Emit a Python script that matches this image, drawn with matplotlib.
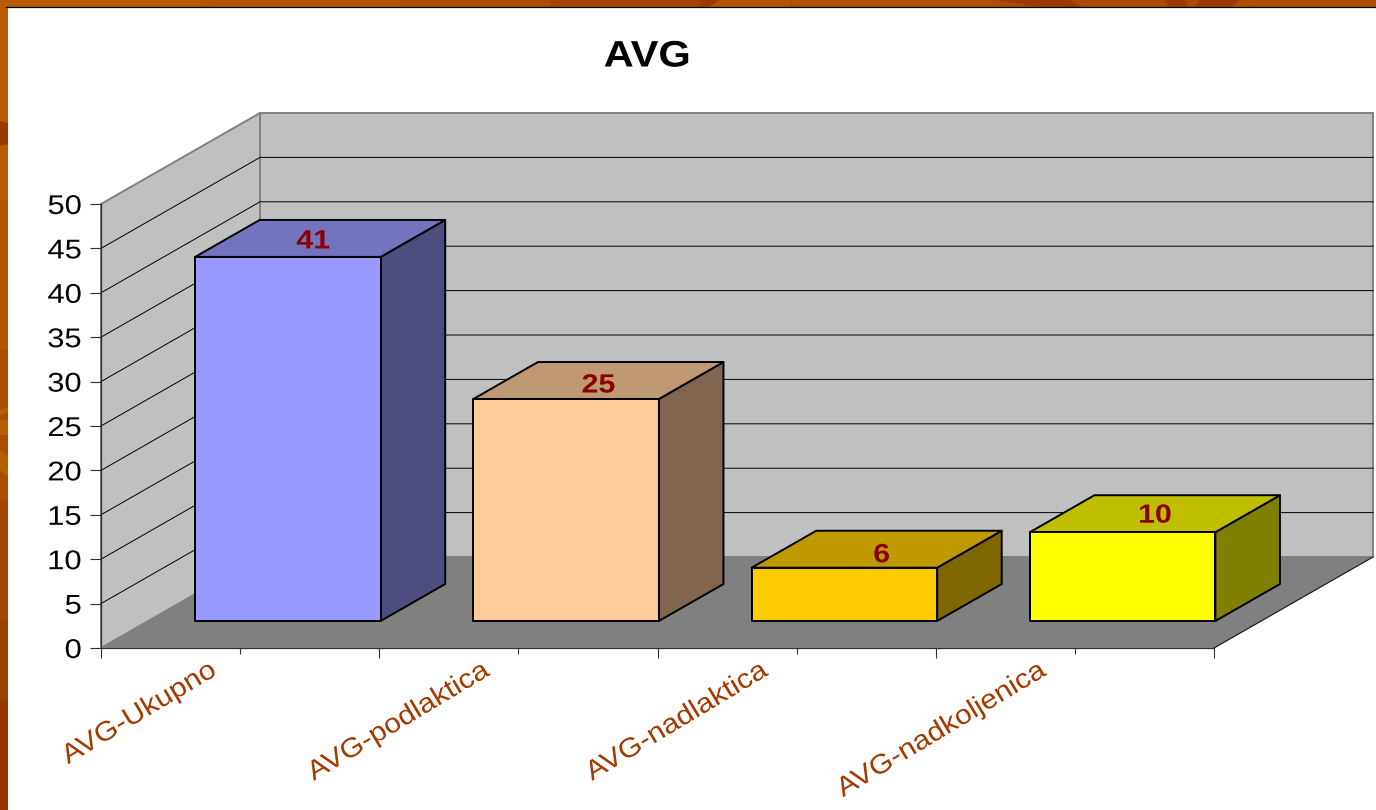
import matplotlib
matplotlib.use("Agg")
import matplotlib.pyplot as plt
from matplotlib.patches import Polygon, Rectangle
from matplotlib.patheffects import AbstractPathEffect
from matplotlib.transforms import Affine2D

# data
categories = ["AVG-Ukupno", "AVG-podlaktica", "AVG-nadlaktica", "AVG-nadkoljenica"]
values = [41, 25, 6, 10]
y_ticks = [0, 5, 10, 15, 20, 25, 30, 35, 40, 45, 50]

# styles
front_colors = ["#9999FF", "#FFCC99", "#FFCC00", "#FFFF00"]
top_colors = ["#7373BF", "#BF9973", "#BF9900", "#BFBF00"]
side_colors = ["#4D4D80", "#806650", "#806600", "#808000"]
label_shift = [-7, 0, 5, 0]
label_drop = [3, 5, 6, 2]
cat_shift = [5, 0, 0, 0]

W, H = 1376, 810
plt.rcParams["font.family"] = ["Liberation Sans", "DejaVu Sans"]
fig = plt.figure(figsize=(W / 100, H / 100), dpi=100)


# the slide was stretched sideways, so the text is wider than the font
class StretchX(AbstractPathEffect):
    def __init__(self, sx, anchor):
        super().__init__()
        self.sx = sx
        self.anchor = anchor

    def draw_path(self, renderer, gc, tpath, affine, rgbFace=None):
        box = tpath.get_extents()
        x = box.x0 + self.anchor * box.width
        t = Affine2D().translate(-x, 0).scale(self.sx, 1).translate(x, 0)
        renderer.draw_path(gc, tpath, t + affine, rgbFace)


# orange frame behind the white slide, drawn in pixels
bg = fig.add_axes([0, 0, 1, 1])
bg.set_xlim(0, W)
bg.set_ylim(H, 0)
bg.axis("off")
left_bands = [(0, "#B85A00"), (200, "#B25400"), (350, "#AB4C00"), (500, "#A44600"),
              (620, "#9F4000"), (700, "#9A3700")]
for i, (y0, c) in enumerate(left_bands):
    y1 = left_bands[i + 1][0] if i + 1 < len(left_bands) else H
    bg.add_patch(Rectangle((0, y0), 8, y1 - y0, fc=c, ec="none"))
top_bands = [(0, "#B85A00"), (200, "#B25400"), (400, "#AC4C00"), (550, "#A54400"),
             (700, "#B25400"), (790, "#AE5000"), (1000, "#A84A00"), (1200, "#AC4E00")]
for i, (x0, c) in enumerate(top_bands):
    x1 = top_bands[i + 1][0] if i + 1 < len(top_bands) else W
    bg.add_patch(Rectangle((x0, 0), x1 - x0, 7, fc=c, ec="none"))
dark = [[(0, 121), (8, 123), (8, 144), (0, 146)],
        [(995, 0), (1070, 0), (1080, 7), (1040, 7)],
        [(1165, 0), (1185, 0), (1188, 7), (1168, 7)],
        [(1198, 0), (1240, 0), (1232, 7), (1195, 7)],
        [(700, 0), (720, 0), (708, 7), (700, 7)]]
light = [[(0, 410), (8, 407), (8, 411), (0, 416)],
         [(0, 420), (8, 420), (8, 435), (0, 435)],
         [(0, 450), (8, 456), (8, 476), (0, 470)]]
for p in dark:
    bg.add_patch(Polygon(p, fc="#9A3A00", ec="none"))
for p in light:
    bg.add_patch(Polygon(p, fc="#B56000", ec="none"))
bg.add_patch(Rectangle((8, 7), W - 8, H - 7, fc="white", ec="none"))
bg.plot([6, W], [7, 7], color="black", lw=0.9)

# chart axes: front plane of the 3D box
ax = fig.add_axes([101 / W, (H - 648) / H, (1214 - 101) / W, (648 - 204) / H])
ax.patch.set_visible(False)
ax.set_xlim(0, len(categories))
ax.set_ylim(0, 50)
for s in ["top", "right"]:
    ax.spines[s].set_visible(False)
ax.spines["left"].set_color("#303030")
ax.spines["bottom"].set_color("#303030")
ax.spines["left"].set_linewidth(0.9)
ax.spines["bottom"].set_linewidth(0.9)

# depth of the box as data offsets
dx = 159 / 278.25
dy = 91 / 8.88
xmax = len(categories)

ax.add_patch(Polygon([(dx, dy), (xmax + dx, dy), (xmax + dx, 50 + dy), (dx, 50 + dy)],
                     fc="#C0C0C0", ec="#808080", lw=1.4, clip_on=False, zorder=1))
ax.add_patch(Polygon([(0, 0), (dx, dy), (dx, 50 + dy), (0, 50)],
                     fc="#C0C0C0", ec="#808080", lw=1.4, clip_on=False, zorder=1))
for t in y_ticks[1:-1]:
    ax.plot([0, dx, xmax + dx], [t, t + dy, t + dy], color="black", lw=0.7,
            clip_on=False, zorder=2)
ax.add_patch(Polygon([(0, 0), (dx, dy), (xmax + dx, dy), (xmax, 0)],
                     fc="#808080", ec="none", clip_on=False, zorder=3))
ax.plot([xmax, xmax + dx], [0, dy], color="#202020", lw=0.9, clip_on=False, zorder=3)

# 3D bars
gap = 1 / 6
d0, d1 = 0.297, 0.703
for i, v in enumerate(values):
    x0 = i + gap + d0 * dx + 0.002
    x1 = i + 1 - gap + d0 * dx + 0.002
    b0 = d0 * dy
    sx = (d1 - d0) * dx
    sy = (d1 - d0) * dy
    ek = dict(ec="black", lw=1.4, joinstyle="round", clip_on=False, zorder=4)
    ax.add_patch(Polygon([(x1, b0), (x1 + sx, b0 + sy), (x1 + sx, b0 + sy + v), (x1, b0 + v)],
                         fc=side_colors[i], **ek))
    ax.add_patch(Polygon([(x0, b0 + v), (x1, b0 + v), (x1 + sx, b0 + v + sy), (x0 + sx, b0 + v + sy)],
                         fc=top_colors[i], **ek))
    ax.add_patch(Rectangle((x0, b0), x1 - x0, v, fc=front_colors[i], **ek))
    ax.annotate(str(v), xy=((x0 + x1 + sx) / 2, b0 + v + sy / 2),
                xytext=(label_shift[i] * 0.72, -label_drop[i] * 0.72), textcoords="offset points",
                ha="center", va="center", fontsize=19, fontweight="bold",
                color="#8B0000", zorder=6, annotation_clip=False,
                path_effects=[StretchX(1.15, 0.5)])

# ticks
ax.set_yticks(y_ticks)
ax.tick_params(axis="y", length=8, width=0.8, color="#303030", labelsize=19.5, pad=6,
               labelcolor="black")
for lab in ax.get_yticklabels():
    lab.set_path_effects([StretchX(1.14, 1.0)])
ax.set_xticks(range(len(categories) + 1))
ax.set_xticks([i + 0.5 for i in range(len(categories))], minor=True)
ax.set_xticklabels([])
ax.tick_params(axis="x", which="major", length=7, width=0.8, color="#303030")
ax.tick_params(axis="x", which="minor", length=4.5, width=0.8, color="#303030")

for i, name in enumerate(categories):
    ax.annotate(name, xy=(i + 0.5, 0), xytext=(-22 + cat_shift[i] * 0.72, -14.5), textcoords="offset points",
                ha="right", va="center", rotation=31, rotation_mode="anchor",
                fontsize=19.5, color="#A33A00", annotation_clip=False,
                path_effects=[StretchX(1.11, 1.0)])

fig.text(647 / W, 1 - 57 / H, "AVG", ha="center", va="center", fontsize=26.5,
         fontweight="bold", color="black", path_effects=[StretchX(1.13, 0.5)])

fig.savefig("out.png", dpi=100)
